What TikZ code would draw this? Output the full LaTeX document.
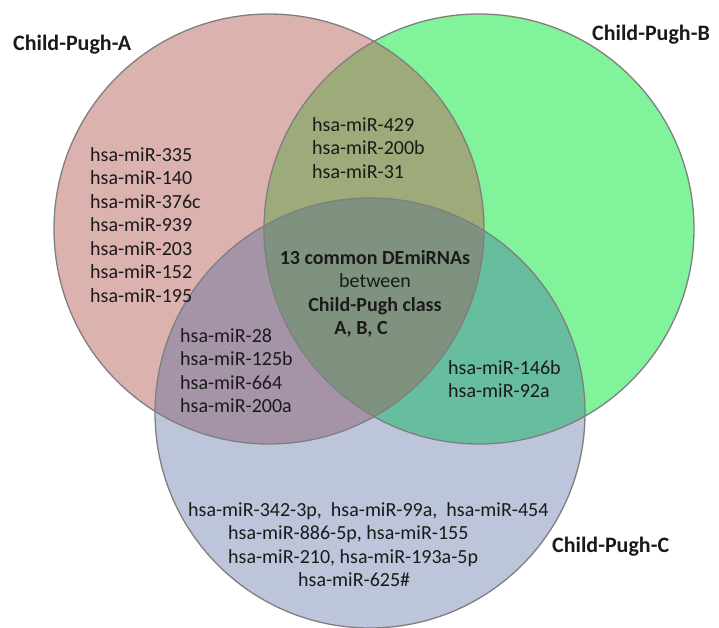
\documentclass[tikz,border=0pt]{standalone}
\usepackage{fontspec}
\setmainfont{Carlito}
\usetikzlibrary{positioning}

\definecolor{fillA}{HTML}{DCB2AE}
\definecolor{fillB}{HTML}{80F39B}
\definecolor{fillC}{HTML}{BDC5DB}
\definecolor{fillAB}{HTML}{9CAB79}
\definecolor{fillAC}{HTML}{A594A8}
\definecolor{fillBC}{HTML}{67BE9E}
\definecolor{fillABC}{HTML}{7E927F}
\definecolor{rim}{HTML}{7F7F7F}
\definecolor{ink}{HTML}{1A1A1A}

\begin{document}
\begin{tikzpicture}[x=1pt,y=-1pt,
		setname/.style={inner sep=0pt,anchor=north west,text=ink,font=\fontsize{22}{26}\selectfont\bfseries},
		mirlist/.style={inner sep=0pt,anchor=north west,align=left,text=ink,font=\fontsize{20}{23.5}\selectfont},
		common/.style={inner sep=0pt,anchor=north,align=center,text=ink,font=\fontsize{20}{23.5}\selectfont}]
		\useasboundingbox (0,0) rectangle (719,628);
		\coordinate (A) at (269,229);
		\coordinate (B) at (479,229);
		\coordinate (C) at (370,413);
		% single sets
		\fill[fillA] (A) circle (215);
		\fill[fillB] (B) circle (215);
		\fill[fillC] (C) circle (215);
		% overlaps
		\begin{scope}
			\clip (A) circle (215);
			\fill[fillAB] (B) circle (215);
			\fill[fillAC] (C) circle (215);
		\end{scope}
		\begin{scope}
			\clip (B) circle (215);
			\fill[fillBC] (C) circle (215);
		\end{scope}
		\begin{scope}
			\clip (A) circle (215);
			\clip (B) circle (215);
			\fill[fillABC] (C) circle (215);
		\end{scope}
		\draw[rim,line width=1.3pt] (A) circle (215) (B) circle (215) (C) circle (215);
		% labels
		\node[setname] (nameA) at (13,35) {Child-Pugh-A};
		\node[setname] (nameB) at (592,25) {Child-Pugh-B};
		\node[setname] (nameC) at (552,537) {Child-Pugh-C};
		\node[mirlist] (onlyA) at (90,147) {hsa-miR-335\\hsa-miR-140\\hsa-miR-376c\\hsa-miR-939\\hsa-miR-203\\hsa-miR-152\\hsa-miR-195};
		\node[mirlist] (AandB) at (312,117) {hsa-miR-429\\hsa-miR-200b\\hsa-miR-31};
		\node[mirlist] (AandC) at (180,328) {hsa-miR-28\\hsa-miR-125b\\hsa-miR-664\\hsa-miR-200a};
		\node[mirlist] (BandC) at (448,360) {hsa-miR-146b\\hsa-miR-92a};
		\node[mirlist] (onlyC) at (188,502) {hsa-miR-342-3p,\ \ hsa-miR-99a,\ \ hsa-miR-454\\
			\hspace*{40pt}hsa-miR-886-5p, hsa-miR-155\\
			\hspace*{40pt}hsa-miR-210, hsa-miR-193a-5p\\
			\hspace*{110pt}hsa-miR-625\#};
		\node[common] (all) at (375,250) {\textbf{13 common DEmiRNAs}\\between\\\textbf{Child-Pugh class}\\\textbf{A, B, C}\hspace*{28pt}};
	\end{tikzpicture}
\end{document}
